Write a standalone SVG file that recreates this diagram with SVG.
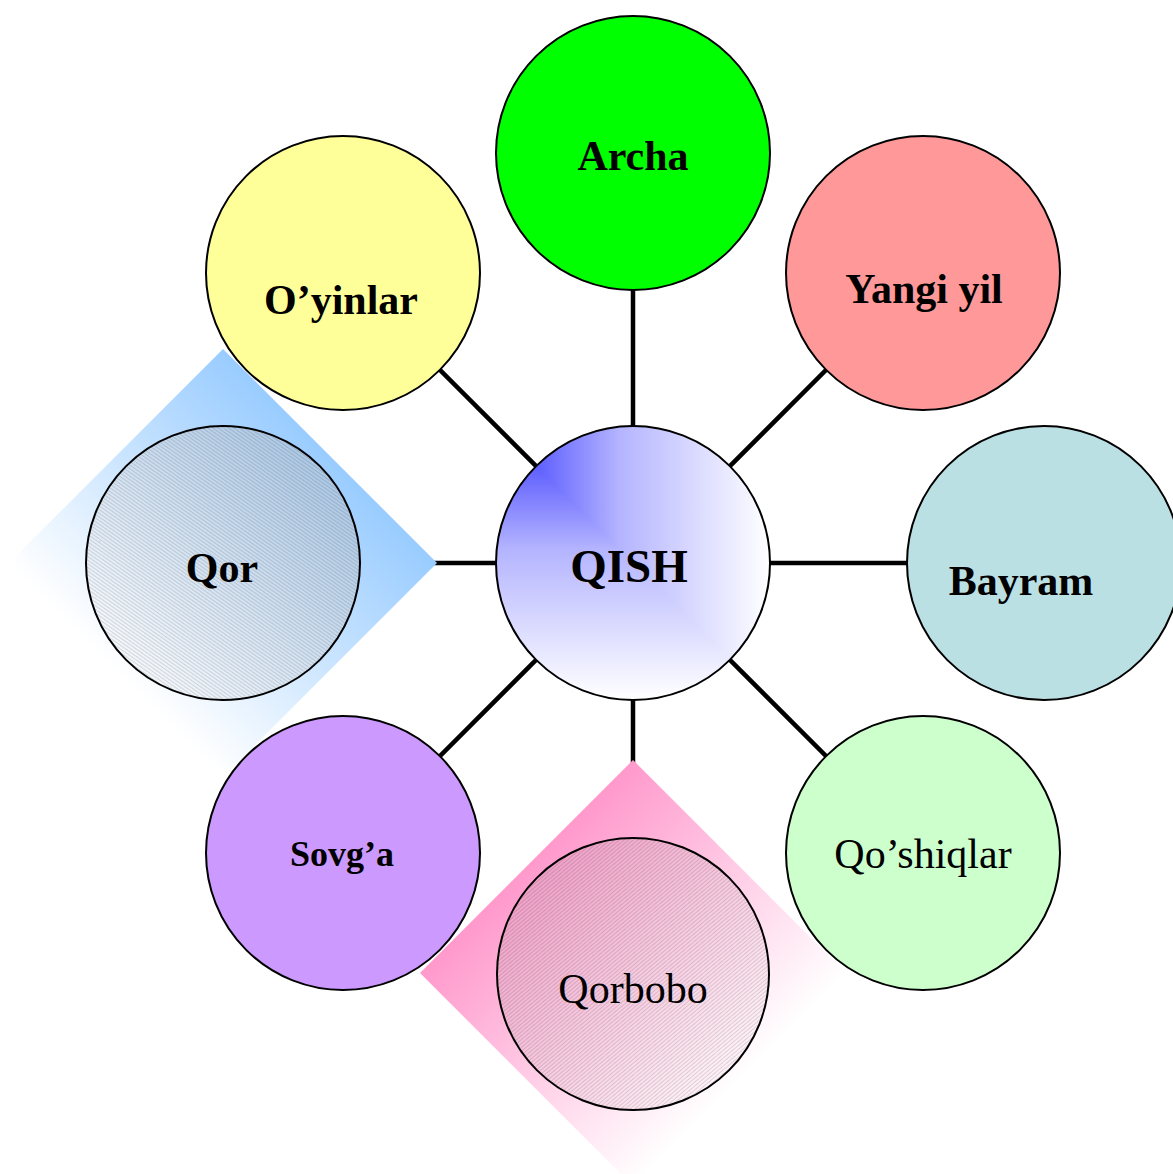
<svg xmlns="http://www.w3.org/2000/svg" width="1173" height="1174" viewBox="0 0 1173 1174">
<defs>
  <style>
    .node { stroke: #000; stroke-width: 2; }
    .lbl { font-family: "Liberation Serif", "Times New Roman", serif; fill: #000; text-anchor: middle; }
    .b { font-weight: bold; font-size: 42px; }
    .r { font-weight: normal; font-size: 42px; }
    .conn line { stroke: #000; stroke-width: 4.5; }
  </style>
  <linearGradient id="cH" gradientUnits="userSpaceOnUse" x1="496" y1="0" x2="770" y2="0">
    <stop offset="0" stop-color="#3535FF"/>
    <stop offset="0.45" stop-color="#B4B4FF"/>
    <stop offset="1" stop-color="#FFFFFF"/>
  </linearGradient>
  <linearGradient id="cV" gradientUnits="userSpaceOnUse" x1="0" y1="426" x2="0" y2="700">
    <stop offset="0" stop-color="#3535FF"/>
    <stop offset="0.45" stop-color="#B4B4FF"/>
    <stop offset="1" stop-color="#FFFFFF"/>
  </linearGradient>
  <clipPath id="cTR"><polygon points="496,426 770,426 770,700"/></clipPath>
  <linearGradient id="gQor" gradientUnits="userSpaceOnUse" x1="330" y1="456" x2="116" y2="670">
    <stop offset="0" stop-color="#99CCFF"/>
    <stop offset="1" stop-color="#FFFFFF"/>
  </linearGradient>
  <linearGradient id="gQorC" gradientUnits="userSpaceOnUse" x1="330" y1="456" x2="116" y2="670">
    <stop offset="0" stop-color="#A9C6E4"/>
    <stop offset="1" stop-color="#F8FAFD"/>
  </linearGradient>
  <linearGradient id="gQb" gradientUnits="userSpaceOnUse" x1="526" y1="866" x2="740" y2="1080">
    <stop offset="0" stop-color="#FF99CC"/>
    <stop offset="1" stop-color="#FFFFFF"/>
  </linearGradient>
  <linearGradient id="gQbC" gradientUnits="userSpaceOnUse" x1="526" y1="866" x2="740" y2="1080">
    <stop offset="0" stop-color="#EE9CC4"/>
    <stop offset="1" stop-color="#FFF6FA"/>
  </linearGradient>
  <pattern id="hQor" patternUnits="userSpaceOnUse" width="3" height="3" patternTransform="rotate(35)">
    <line x1="0" y1="0.5" x2="3" y2="0.5" stroke="#000" stroke-opacity="0.22" stroke-width="0.6"/>
  </pattern>
  <pattern id="hQb" patternUnits="userSpaceOnUse" width="3" height="3" patternTransform="rotate(-40)">
    <line x1="0" y1="0.5" x2="3" y2="0.5" stroke="#000" stroke-opacity="0.22" stroke-width="0.6"/>
  </pattern>
</defs>
<rect width="1173" height="1174" fill="#FFFFFF"/>

<g id="connectors" class="conn">
  <line x1="633" y1="563" x2="633" y2="153"/>
  <line x1="633" y1="563" x2="343" y2="273"/>
  <line x1="633" y1="563" x2="923" y2="273"/>
  <line x1="633" y1="563" x2="1044" y2="563"/>
  <line x1="633" y1="563" x2="923" y2="853"/>
  <line x1="633" y1="563" x2="633" y2="973"/>
  <line x1="633" y1="563" x2="343" y2="853"/>
  <line x1="633" y1="563" x2="223" y2="563"/>
</g>

<g id="node-qor">
  <polygon points="223,349 437,563 223,777 9,563" fill="url(#gQor)"/>
  <circle cx="223" cy="563" r="137" fill="url(#gQorC)"/>
  <circle class="node" cx="223" cy="563" r="137" fill="url(#hQor)"/>
  <text class="lbl b" x="222" y="582">Qor</text>
</g>

<g id="node-qorbobo">
  <polygon points="633,760 846,973 633,1186 420,973" fill="url(#gQb)"/>
  <circle cx="633" cy="974" r="136" fill="url(#gQbC)"/>
  <circle class="node" cx="633" cy="974" r="136" fill="url(#hQb)"/>
  <text class="lbl r" x="633" y="1003">Qorbobo</text>
</g>

<g id="node-archa">
  <circle class="node" cx="633" cy="153" r="137" fill="#00FF00"/>
  <text class="lbl b" x="633" y="170">Archa</text>
</g>

<g id="node-oyinlar">
  <circle class="node" cx="343" cy="273" r="137" fill="#FFFF99"/>
  <text class="lbl b" x="341" y="314">O’yinlar</text>
</g>

<g id="node-yangiyil">
  <circle class="node" cx="923" cy="273" r="137" fill="#FF9999"/>
  <text class="lbl b" x="924" y="303">Yangi yil</text>
</g>

<g id="node-bayram">
  <circle class="node" cx="1044" cy="563" r="137" fill="#BBE0E3"/>
  <text class="lbl b" x="1021" y="595">Bayram</text>
</g>

<g id="node-sovga">
  <circle class="node" cx="343" cy="853" r="137" fill="#CC99FF"/>
  <text class="lbl" x="342" y="866" font-weight="bold" font-size="36">Sovg’a</text>
</g>

<g id="node-qoshiqlar">
  <circle class="node" cx="923" cy="853" r="137" fill="#CCFFCC"/>
  <text class="lbl r" x="923" y="868">Qo’shiqlar</text>
</g>

<g id="node-qish">
  <circle cx="633" cy="563" r="137" fill="url(#cV)"/>
  <g clip-path="url(#cTR)"><circle cx="633" cy="563" r="137" fill="url(#cH)"/></g>
  <circle class="node" cx="633" cy="563" r="137" fill="none"/>
  <text class="lbl" x="629" y="582" font-weight="bold" font-size="47">QISH</text>
</g>
</svg>
